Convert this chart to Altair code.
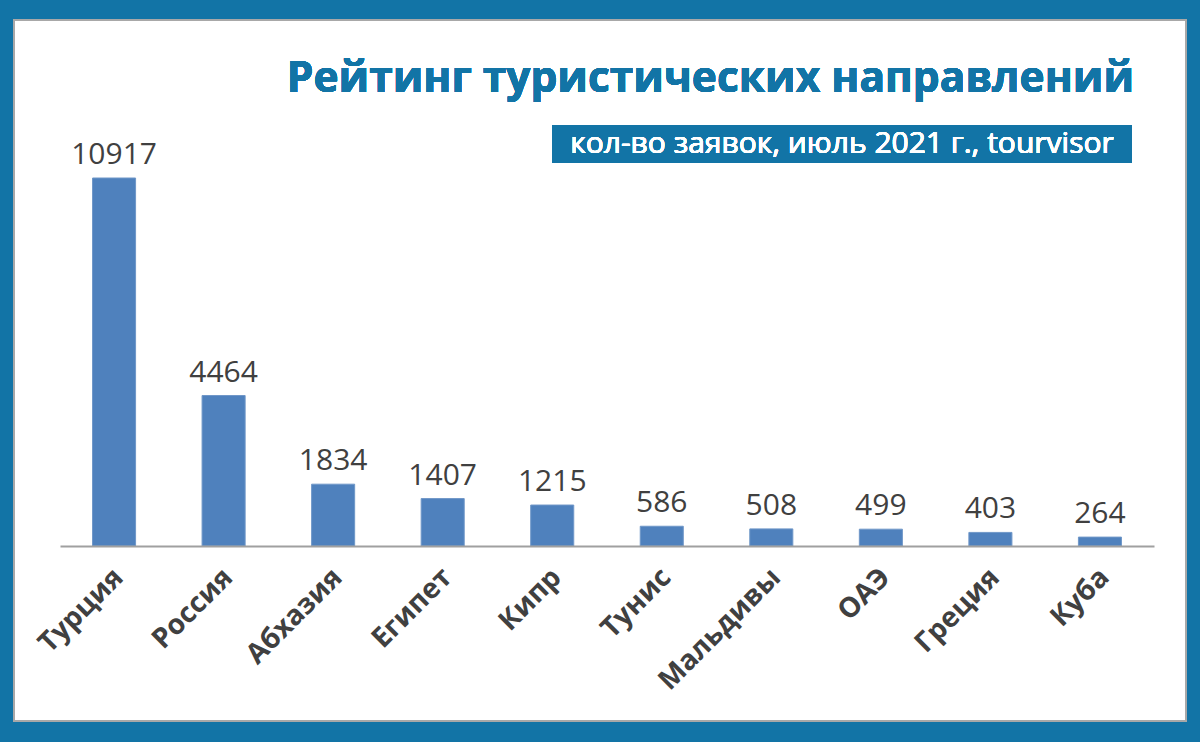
import altair as alt
import pandas as pd

countries = ["Турция", "Россия", "Абхазия", "Египет", "Кипр", "Тунис", "Мальдивы", "ОАЭ", "Греция", "Куба"]
requests = [10917, 4464, 1834, 1407, 1215, 586, 508, 499, 403, 264]
title_text = "Рейтинг туристических направлений"
subtitle_text = "кол-во заявок, июль 2021 г., tourvisor"

df = pd.DataFrame({"country": countries, "value": requests})

BLUE = "#1274a6"
BAR = "#4f81bd"
TEXT = "#404040"
FONT = "Open Sans"

W, H = 1094, 446
PL, PT = 60, 100

x = alt.X("country:N", sort=countries,
          scale=alt.Scale(paddingInner=0.607, paddingOuter=0.297),
          axis=alt.Axis(title=None, labelAngle=-45, labelFontSize=28, labelFontWeight="bold",
                        labelFont=FONT, labelColor=TEXT, ticks=False, domainColor="#a0a0a0",
                        domainWidth=2, labelPadding=27, labelOffset=5, labelAlign="right",
                        labelBaseline="middle", zindex=1))
y = alt.Y("value:Q", scale=alt.Scale(domain=[0, 13231]), axis=None)

frame = alt.Chart(df).mark_rect(fill="white", stroke="#a8a8a8", strokeWidth=2).encode(
    x=alt.value(14 - PL), x2=alt.value(1186 - PL), y=alt.value(20 - PT), y2=alt.value(721 - PT)
)

bars = alt.Chart(df).mark_bar(color=BAR, stroke="#6f97c8", strokeWidth=1).encode(x=x, y=y)

labels = alt.Chart(df).mark_text(dy=-8, baseline="bottom", fontSize=30, font=FONT, color=TEXT).encode(
    x=x, y=y, text=alt.Text("value:Q", format="d")
)

title = alt.Chart(df).mark_text(text=title_text, align="right", baseline="alphabetic", fontSize=42.5,
                                fontWeight="bold", font=FONT, color=BLUE).encode(
    x=alt.value(1134 - PL), y=alt.value(92 - PT)
)

subbox = alt.Chart(df).mark_rect(fill=BLUE).encode(
    x=alt.value(552 - PL), x2=alt.value(1132 - PL), y=alt.value(125 - PT), y2=alt.value(163 - PT)
)
subtext = alt.Chart(df).mark_text(text=subtitle_text, align="center", baseline="middle", fontSize=30,
                                  font=FONT, color="white").encode(
    x=alt.value((552 + 1132) / 2 - PL), y=alt.value(144 - PT)
)

chart = alt.layer(frame, bars, labels, title, subbox, subtext).properties(
    width=W, height=H, background=BLUE,
    autosize=alt.AutoSizeParams(type="none"),
    padding={"left": PL, "top": PT, "right": 1200 - PL - W, "bottom": 742 - PT - H},
).configure_view(stroke=None, clip=False)

chart.save("out.html", embed_options={"renderer": "svg", "actions": False})
